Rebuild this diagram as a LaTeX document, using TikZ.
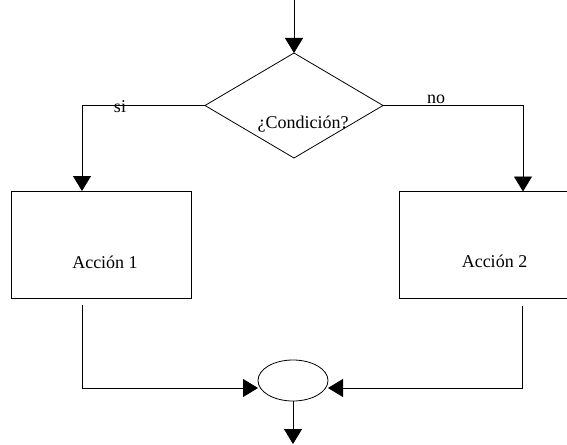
\documentclass[tikz,border=0pt]{standalone}
\usepackage{fontspec}
\setmainfont{Liberation Serif}
\usetikzlibrary{shapes.geometric,arrows.meta}
\begin{document}
\begin{tikzpicture}[x=1pt,y=-1pt,
  every node/.style={inner sep=0pt,outer sep=0pt},
  line/.style={draw=black,line width=0.8pt},
  arr/.style={line,-{Triangle[length=15pt,width=18pt]}},
  txt/.style={anchor=base,font=\fontsize{18}{20}\selectfont},
  actbox/.style={line,rectangle,minimum width=180pt,minimum height=107pt}]
  \clip (0,0) rectangle (567,444);
  \fill[white] (0,0) rectangle (567,444);

  % decision
  \coordinate (in) at (294,0);
  \node[line,diamond,minimum width=178pt,minimum height=105pt] (cond) at (294,105.5) {};
  \node[txt] (condtxt) at (303,128) {¿Condición?};

  % the two actions
  \node[actbox] (act1) at (101,244.5) {};
  \node[txt] (act1txt) at (105,268) {Acción 1};
  \node[actbox] (act2) at (489,245) {};
  \node[txt] (act2txt) at (494.5,267) {Acción 2};

  % junction
  \node[line,ellipse,minimum width=70pt,minimum height=41pt] (merge) at (293,380.5) {};
  \coordinate (out) at (293,444);

  % connectors
  \draw[arr] (in) -- (cond.north);
  \draw[arr] (cond.west) -| ([xshift=-19pt]act1.north);
  \draw[arr] (cond.east) -| ([xshift=34pt]act2.north);
  \draw[arr] ([xshift=-19pt,yshift=-7pt]act1.south) |- ([yshift=-7.5pt]merge.west);
  \draw[arr] ([xshift=33pt,yshift=-7pt]act2.south) |- ([yshift=-7.5pt]merge.east);
  \draw[arr] (merge.south) -- (out);

  % branch labels
  \node[txt] (si) at (120,112) {si};
  \node[txt] (no) at (436,103) {no};
\end{tikzpicture}
\end{document}
